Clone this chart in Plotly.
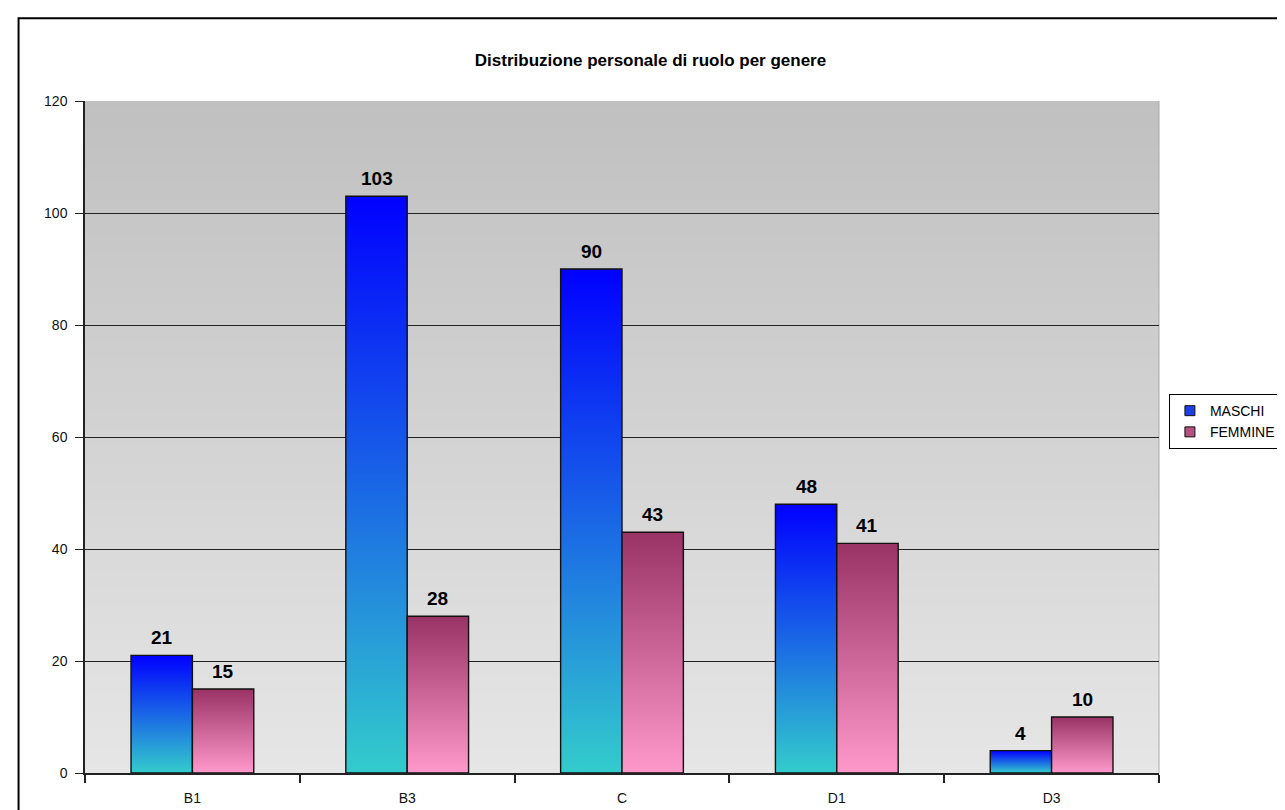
import base64
import struct
import zlib

import plotly.graph_objects as go

# ---- data ----
categories = ["B1", "B3", "C", "D1", "D3"]
maschi = [21, 103, 90, 48, 4]
femmine = [15, 28, 43, 41, 10]
series_names = ["MASCHI", "FEMMINE"]
title_text = "Distribuzione personale di ruolo per genere"
y_ticks = [0, 20, 40, 60, 80, 100, 120]

# ---- style ----
FONT = "Arial, 'Liberation Sans', sans-serif"
BAR_W = 1 / 3.5  # Excel gap width 150%
BLUE_SCALE = [[0, "#33cccc"], [1, "#0000ff"]]
PINK_SCALE = [[0, "#ff99cc"], [1, "#993366"]]

# plot area in pixels
W, H = 1285, 810
L, R, T, B = 77, 1160, 93, 768


def gray_png(top, bottom, n):
    vals = [round(top + (bottom - top) * k / (n - 1)) for k in range(n)]
    raw = b"".join(b"\x00" + bytes([v]) for v in vals)

    def chunk(tag, data):
        c = struct.pack(">I", len(data)) + tag + data
        return c + struct.pack(">I", zlib.crc32(tag + data) & 0xFFFFFFFF)

    ihdr = struct.pack(">IIBBBBB", 1, n, 8, 0, 0, 0, 0)
    png = (b"\x89PNG\r\n\x1a\n" + chunk(b"IHDR", ihdr)
           + chunk(b"IDAT", zlib.compress(raw)) + chunk(b"IEND", b""))
    return "data:image/png;base64," + base64.b64encode(png).decode()


fig = go.Figure()

# bars drawn as filled polygons with vertical gradients
for series, scale, offset in ((maschi, BLUE_SCALE, -BAR_W), (femmine, PINK_SCALE, 0.0)):
    for i, v in enumerate(series):
        x0 = i + offset
        x1 = x0 + BAR_W
        fig.add_trace(go.Scatter(
            x=[x0, x0, x1, x1, x0], y=[0, v, v, 0, 0],
            mode="lines", fill="toself",
            fillgradient=dict(type="vertical", colorscale=scale),
            line=dict(color="#111111", width=1.4),
            showlegend=False, hoverinfo="skip",
        ))

# legend entries
fig.add_trace(go.Scatter(x=[None], y=[None], mode="markers", name=series_names[0],
                         marker=dict(symbol="square", size=10, color="#1f3fe6",
                                     line=dict(color="#111", width=1))))
fig.add_trace(go.Scatter(x=[None], y=[None], mode="markers", name=series_names[1],
                         marker=dict(symbol="square", size=10, color="#b5507f",
                                     line=dict(color="#111", width=1))))

# value labels
annotations = []
for series, offset in ((maschi, -BAR_W / 2), (femmine, BAR_W / 2)):
    for i, v in enumerate(series):
        annotations.append(dict(
            x=i + offset, y=v, xref="x", yref="y", text=str(v), showarrow=False,
            yanchor="bottom", yshift=5,
            font=dict(family=FONT, size=19, color="#000000", weight="bold"),
        ))

px_x = lambda p: (p - L) / (R - L)
px_y = lambda p: (B - p) / (B - T)

shapes = [
    # outer chart frame
    dict(type="rect", xref="paper", yref="paper",
         x0=px_x(10), x1=px_x(W + 40), y0=px_y(H + 40), y1=px_y(10),
         line=dict(color="#000000", width=2), fillcolor="rgba(0,0,0,0)", layer="above"),
    # right border of plot area
    dict(type="line", xref="paper", yref="paper", x0=1, x1=1, y0=0, y1=1,
         line=dict(color="#a8a8a8", width=1), layer="below"),
]

fig.update_layout(
    width=W, height=H,
    margin=dict(l=L, r=W - R, t=T, b=H - B, pad=0),
    paper_bgcolor="#ffffff",
    plot_bgcolor="rgba(0,0,0,0)",
    font=dict(family=FONT, size=14, color="#111111"),
    title=dict(text="<b>" + title_text + "</b>", x=0.5, xref="container", xanchor="center",
               y=1 - 52 / H, yref="container", yanchor="middle",
               font=dict(family=FONT, size=17, color="#000000")),
    showlegend=True,
    legend=dict(x=px_x(1170), xanchor="left", y=px_y(415), yanchor="middle",
                bgcolor="#ffffff", bordercolor="#000000", borderwidth=1,
                font=dict(family=FONT, size=14, color="#000000"),
                itemwidth=30, tracegroupgap=0),
    annotations=annotations,
    shapes=shapes,
    images=[dict(source=gray_png(192, 230, B - T), xref="paper", yref="paper",
                 x=0, y=1, sizex=1, sizey=1, xanchor="left", yanchor="top",
                 sizing="stretch", layer="below")],
)

fig.update_xaxes(
    range=[-0.5, len(categories) - 0.5],
    tickmode="array", tickvals=list(range(len(categories))), ticktext=categories,
    ticks="", ticklabelstandoff=11,
    tickfont=dict(family=FONT, size=14, color="#111111"),
    showgrid=False, zeroline=False,
    showline=True, linecolor="#222222", linewidth=1.5,
    minor=dict(tickmode="array", tickvals=[k - 0.5 for k in range(len(categories) + 1)],
               ticks="outside", ticklen=8, tickwidth=1.5, tickcolor="#222222", showgrid=False),
    fixedrange=True,
)
fig.update_yaxes(
    range=[0, 120], tickmode="array", tickvals=y_ticks,
    ticks="outside", ticklen=8, tickwidth=1.3, tickcolor="#222222",
    ticklabelstandoff=5,
    tickfont=dict(family=FONT, size=14, color="#111111"),
    showgrid=True, gridcolor="#222222", gridwidth=1,
    zeroline=False, showline=True, linecolor="#222222", linewidth=1.5,
    fixedrange=True,
)

fig.write_html("out.html")
